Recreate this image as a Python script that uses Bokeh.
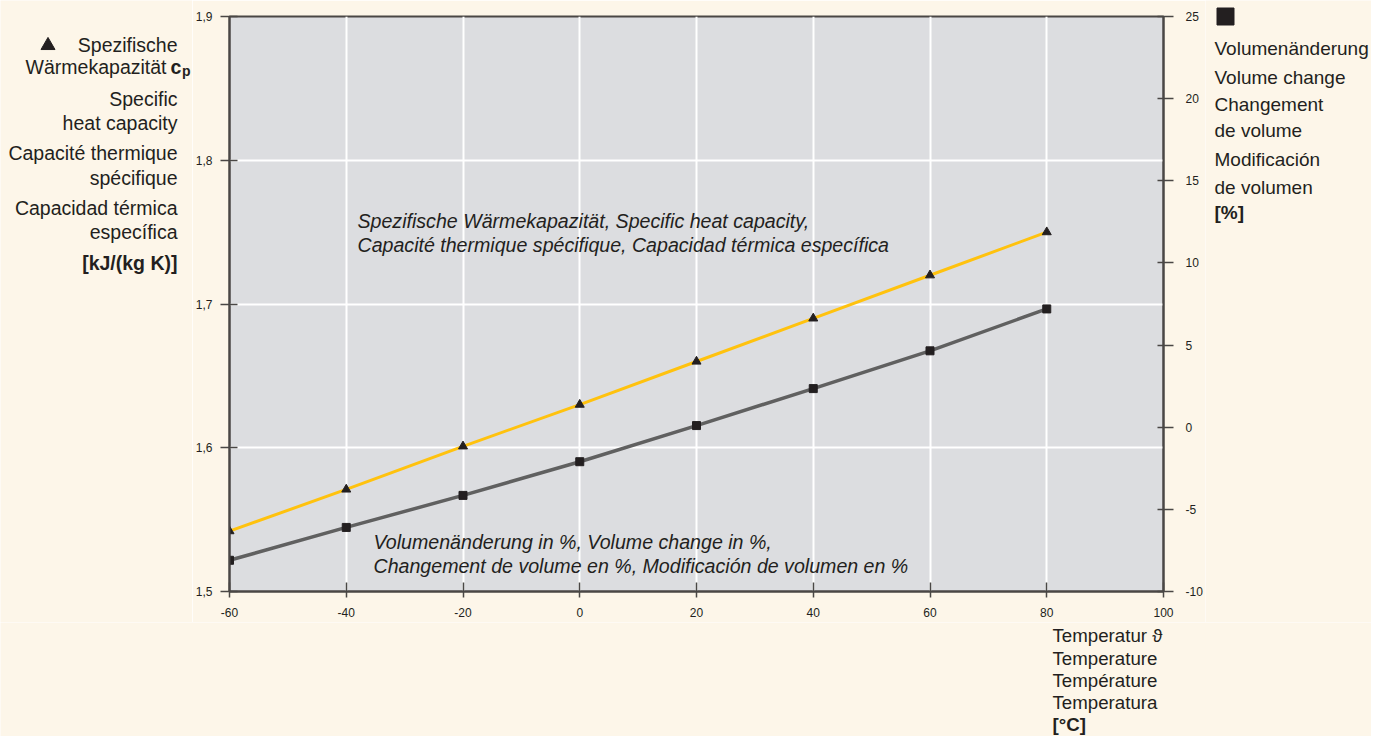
from bokeh.plotting import figure
from bokeh.layouts import row, column
from bokeh.models import Range1d, LinearAxis, FixedTicker, Label
from bokeh.core.properties import value
from bokeh.embed import file_html
from bokeh.resources import INLINE

# ---- data ----
temperature = [-60, -40, -20, 0, 20, 40, 60, 80]
heat_capacity = [1.542, 1.571, 1.601, 1.630, 1.660, 1.690, 1.720, 1.750]
volume_change = [-8.1, -6.1, -4.15, -2.1, 0.1, 2.35, 4.65, 7.2]

x_ticks = [-60, -40, -20, 0, 20, 40, 60, 80, 100]
left_ticks = [1.5, 1.6, 1.7, 1.8, 1.9]
left_tick_labels = ["1,5", "1,6", "1,7", "1,8", "1,9"]
right_ticks = [-10, -5, 0, 5, 10, 15, 20, 25]

left_title = ["Spezifische", "Wärmekapazität", "Specific", "heat capacity",
              "Capacité thermique", "spécifique", "Capacidad térmica",
              "específica", "[kJ/(kg K)]"]
right_title = ["Volumenänderung", "Volume change", "Changement", "de volume",
               "Modificación", "de volumen", "[%]"]
bottom_title = ["Temperatur \u03d1", "Temperature", "Température", "Temperatura", "[°C]"]
note_cp = ["Spezifische Wärmekapazität, Specific heat capacity,",
           "Capacité thermique spécifique, Capacidad térmica específica"]
note_vol = ["Volumenänderung in %, Volume change in %,",
            "Changement de volume en %, Modificación de volumen en %"]

FONT = "Liberation Sans"
BG = "#fdf6e9"
PLOT_BG = "#dcdde0"
AXIS = "#4a4745"
TXT = "#231f20"

W, H = 1371, 736
LW = 192            # width of left text panel
RX = 1205           # x where right text panel starts
MAIN_H = 622        # height of main chart row
FL, FT, FR, FB = 229, 16, 1163, 591  # frame in canvas coords


def text_panel(x0, x1, y0, y1):
    f = figure(width=x1 - x0, height=y1 - y0, output_backend="svg", toolbar_location=None,
               x_range=Range1d(x0, x1), y_range=Range1d(y1, y0),
               x_axis_type=None, y_axis_type=None, min_border=0)
    f.background_fill_color = BG
    f.border_fill_color = BG
    f.outline_line_color = None
    f.frame_align = False
    return f


def put(f, texts, xs, ys, align="left", size=19.5, style="normal"):
    f.text(x=xs, y=ys, text=texts, text_align=align, text_baseline="middle",
           text_font=value(FONT), text_font_size=f"{size}px",
           text_font_style=style, text_color=TXT)


# ---- main chart ----
p = figure(width=RX - LW, height=MAIN_H, output_backend="svg", toolbar_location=None,
           x_range=Range1d(-60, 100), y_range=Range1d(1.5, 1.9),
           min_border_left=FL - LW, min_border_right=RX - FR,
           min_border_top=FT, min_border_bottom=MAIN_H - FB)
p.background_fill_color = PLOT_BG
p.border_fill_color = BG
p.outline_line_color = AXIS
p.outline_line_width = 2
p.extra_y_ranges = {"vol": Range1d(-10, 25)}

p.xaxis.ticker = FixedTicker(ticks=x_ticks)
p.xaxis.major_label_overrides = {t: str(t) for t in x_ticks}
p.yaxis.ticker = FixedTicker(ticks=left_ticks)
p.yaxis.major_label_overrides = {t: l for t, l in zip(left_ticks, left_tick_labels)}

raxis = LinearAxis(y_range_name="vol", ticker=FixedTicker(ticks=right_ticks))
raxis.major_label_overrides = {t: str(t) for t in right_ticks}
p.add_layout(raxis, "right")

for ax in [p.xaxis[0], p.yaxis[0], raxis]:
    ax.axis_line_color = AXIS
    ax.axis_line_width = 2
    ax.major_tick_line_color = AXIS
    ax.major_tick_line_width = 1.5
    ax.minor_tick_line_color = None
    ax.major_label_text_font = FONT
    ax.major_label_text_font_size = "12px"
    ax.major_label_text_color = TXT
p.xaxis.major_tick_in = 9
p.xaxis.major_tick_out = 6
p.xaxis.major_label_standoff = 10
p.yaxis.major_tick_in = 8
p.yaxis.major_tick_out = 9
p.yaxis.major_label_standoff = 8
raxis.major_tick_in = 6
raxis.major_tick_out = 10
raxis.major_label_standoff = 12

p.xgrid.grid_line_color = "white"
p.xgrid.grid_line_width = 2
p.ygrid.grid_line_color = "white"
p.ygrid.grid_line_width = 2

p.line(temperature, heat_capacity, line_color="#ffc20e", line_width=3)
p.scatter(temperature, heat_capacity, marker="triangle", size=9,
          fill_color=TXT, line_color=TXT)
p.line(temperature, volume_change, y_range_name="vol", line_color="#606060", line_width=3.5)
p.scatter(temperature, volume_change, y_range_name="vol", marker="square", size=8,
          fill_color=TXT, line_color=TXT)


def note(text, x, y):
    p.add_layout(Label(x=x - FL, y=FB - y, x_units="screen", y_units="screen",
                       text=text, text_align="left", text_baseline="middle",
                       text_font=FONT, text_font_size="19.6px", text_font_style="italic",
                       text_color=TXT))


for t, y in zip(note_cp, [220, 244]):
    note(t, 357, y)
for t, y in zip(note_vol, [541, 565]):
    note(t, 373, y)

# ---- left text panel ----
left_p = text_panel(0, LW, 0, MAIN_H)
left_y = [44, 66, 98, 122, 152, 177, 207, 231, 262]
reg = [i for i in range(len(left_title)) if i not in (1, len(left_title) - 1)]
put(left_p, [left_title[i] for i in reg], [177] * len(reg), [left_y[i] for i in reg], align="right")
put(left_p, [left_title[1]], [166], [left_y[1]], align="right")
put(left_p, [left_title[-1]], [177], [left_y[-1]], align="right", style="bold")
put(left_p, ["c"], [170], [left_y[1]], style="bold")
put(left_p, ["p"], [181.5], [left_y[1] + 4], size=14, style="bold")
left_p.scatter([47.5], [45], marker="triangle", size=14, fill_color=TXT, line_color=TXT)

# ---- right text panel ----
right_p = text_panel(RX, W, 0, MAIN_H)
right_y = [48, 77, 104, 130, 159, 187, 212]
put(right_p, right_title[:-1], [1214] * (len(right_title) - 1), right_y[:-1], size=19)
put(right_p, [right_title[-1]], [1214], [right_y[-1]], size=19, style="bold")
right_p.scatter([1225], [16], marker="square", size=17, fill_color=TXT, line_color=TXT)

# ---- bottom text panel ----
bottom_p = text_panel(0, W, MAIN_H, H)
bottom_y = [635, 658, 680, 702, 724]
put(bottom_p, bottom_title[:-1], [1052] * (len(bottom_title) - 1), bottom_y[:-1], size=18.7)
put(bottom_p, [bottom_title[-1]], [1052], [bottom_y[-1]], size=18.7, style="bold")

layout = column(row(left_p, p, right_p, spacing=0), bottom_p, spacing=0)

open("out.html", "w").write(file_html(layout, INLINE))
